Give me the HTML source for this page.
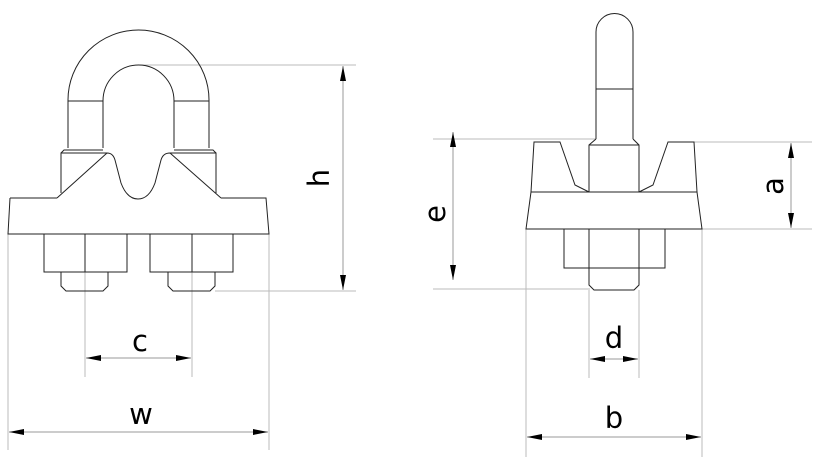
<!DOCTYPE html>
<html><head><meta charset="utf-8"><style>html,body{margin:0;padding:0;background:#fff}svg{display:block}</style></head>
<body>
<svg width="819" height="467" viewBox="0 0 819 467" xmlns="http://www.w3.org/2000/svg" font-family="'DejaVu Sans','Liberation Sans',sans-serif">
<defs>
<marker id="ar" viewBox="0 0 15 6" refX="15" refY="3" markerWidth="15" markerHeight="6" markerUnits="userSpaceOnUse" orient="auto-start-reverse"><path d="M0,0 L15,3 L0,6 Z" fill="#000"/></marker>
</defs>
<!-- extension lines -->
<g stroke="#bbb" stroke-width="1" fill="none">
<line x1="140" y1="65" x2="356" y2="65"/>
<line x1="215" y1="291" x2="356" y2="291"/>
<line x1="85" y1="272" x2="85" y2="377"/>
<line x1="192" y1="272" x2="192" y2="377"/>
<line x1="8" y1="234" x2="8" y2="450"/>
<line x1="269" y1="234" x2="269" y2="450"/>
<line x1="433" y1="139" x2="596" y2="139"/>
<line x1="433" y1="289" x2="590" y2="289"/>
<line x1="694" y1="142" x2="812" y2="142"/>
<line x1="702" y1="229" x2="812" y2="229"/>
<line x1="589" y1="290" x2="589" y2="378"/>
<line x1="639" y1="290" x2="639" y2="378"/>
<line x1="526" y1="229" x2="526" y2="457"/>
<line x1="702" y1="229" x2="702" y2="457"/>
</g>
<!-- dimension lines -->
<g stroke="#999" stroke-width="1" fill="none" marker-start="url(#ar)" marker-end="url(#ar)">
<line x1="343" y1="66" x2="343" y2="290"/>
<line x1="86" y1="358" x2="191" y2="358"/>
<line x1="9" y1="432" x2="268" y2="432"/>
<line x1="453" y1="132" x2="453" y2="280"/>
<line x1="791" y1="143" x2="791" y2="228"/>
<line x1="590" y1="359" x2="638" y2="359"/>
<line x1="527" y1="437" x2="701" y2="437"/>
</g>
<!-- left clamp -->
<g stroke="#222" stroke-width="1" fill="none">
<path d="M68,100 A70.5,70 0 0 1 209,100 L209,148 M68,100 L68,148"/>
<path d="M103,148 L103,101 A35.5,36 0 0 1 174,101 L174,148"/>
<line x1="68" y1="101" x2="103" y2="101"/><line x1="174" y1="101" x2="209" y2="101"/>
<path d="M61,193 L61,153 L107,153 M61,153 L64,150 L103,150 M216,193 L216,153 L170,153 M216,153 L213,150 L174,150"/>
<path d="M57,198 L107,153 Q113,153 115,160 L121,183 Q127,199 138,199 Q149,199 155,183 L161,160 Q163,153 170,153 L221,198"/>
<path d="M10,198 L57,198 M221,198 L266,198 L269,234 L8,234 L10,198"/>
<path d="M44,234 L44,272 L127,272 L127,234 M85,234 L85,272 M150,234 L150,272 L233,272 L233,234 M192,234 L192,272"/>
<path d="M61,272 L61,286 L66,291 L103,291 L108,286 L108,272 M168,272 L168,286 L173,291 L210,291 L215,286 L215,272"/>
</g>
<!-- right clamp -->
<g stroke="#222" stroke-width="1" fill="none">
<path d="M596,139 L596,32 A18.5,18.5 0 0 1 633,32 L633,139"/>
<line x1="596" y1="89" x2="633" y2="89"/>
<path d="M596,139 L589,145 L589,192 M633,139 L639,145 L639,192 M589,145 L639,145"/>
<path d="M531,192 L534,142 L560,142 L575,185 L589,192 M697,192 L694,142 L668,142 L653,185 L639,192"/>
<path d="M531,192 L697,192 L702,229 L526,229 Z"/>
<path d="M564,229 L564,268 L665,268 L665,229 M589,229 L589,268 M639,229 L639,268"/>
<path d="M589,268 L589,285 L594,290 L634,290 L639,285 L639,268"/>
</g>
<!-- labels -->
<g font-size="29" fill="#000" text-anchor="middle">
<text x="140" y="351">c</text>
<text x="141" y="424">w</text>
<text x="614" y="348">d</text>
<text x="614" y="428">b</text>
<text transform="translate(329,178) rotate(-90)">h</text>
<text transform="translate(445,214) rotate(-90)">e</text>
<text transform="translate(783,186) rotate(-90)">a</text>
</g>
</svg>
</body></html>
